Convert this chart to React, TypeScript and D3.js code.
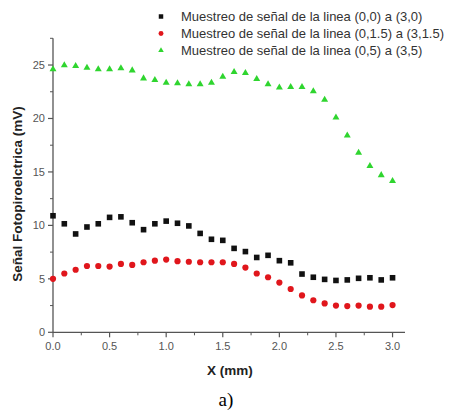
import React from 'react';
import * as d3 from 'd3';

const xValues = [0, 0.1, 0.2, 0.3, 0.4, 0.5, 0.6, 0.7, 0.8, 0.9, 1.0, 1.1, 1.2, 1.3, 1.4, 1.5, 1.6, 1.7, 1.8, 1.9, 2.0, 2.1, 2.2, 2.3, 2.4, 2.5, 2.6, 2.7, 2.8, 2.9, 3.0];
const line00 = [10.9, 10.15, 9.2, 9.85, 10.15, 10.75, 10.8, 10.25, 9.6, 10.15, 10.4, 10.2, 9.95, 9.25, 8.7, 8.6, 7.85, 7.55, 7.0, 7.2, 6.7, 6.5, 5.45, 5.15, 4.95, 4.85, 4.9, 5.05, 5.1, 4.9, 5.1];
const line015 = [5.0, 5.5, 5.85, 6.2, 6.2, 6.15, 6.4, 6.3, 6.55, 6.7, 6.8, 6.65, 6.6, 6.55, 6.55, 6.55, 6.4, 6.05, 5.5, 5.15, 4.65, 4.05, 3.45, 3.0, 2.7, 2.5, 2.45, 2.5, 2.4, 2.4, 2.55];
const line05 = [24.6, 24.98, 24.9, 24.75, 24.6, 24.6, 24.7, 24.5, 23.75, 23.6, 23.35, 23.3, 23.2, 23.2, 23.35, 23.9, 24.35, 24.25, 23.7, 23.2, 22.9, 22.95, 22.95, 22.55, 21.75, 20.1, 18.4, 16.8, 15.55, 14.7, 14.15];
const legendLabels = [
  'Muestreo de señal de la linea (0,0) a (3,0)',
  'Muestreo de señal de la linea (0,1.5) a (3,1.5)',
  'Muestreo de señal de la linea (0,5) a (3,5)',
];
const xTicks = [0, 0.5, 1.0, 1.5, 2.0, 2.5, 3.0];
const yTicks = [0, 5, 10, 15, 20, 25];

const W = 449;
const H = 412;
const axisColor = '#555';
const colors = ['#111111', '#e0161c', '#2fd52f'];

// s = scale, legend markers are a bit smaller than the plotted ones
const Marker = ({ kind, x, y, color, s = 1 }: { kind: number; x: number; y: number; color: string; s?: number }) => {
  if (kind === 0) return <rect x={x - 2.8 * s} y={y - 2.8 * s} width={5.6 * s} height={5.6 * s} fill={color} />;
  if (kind === 1) return <circle cx={x} cy={y} r={3.1 * s} fill={color} />;
  const sym = d3.symbol().type(d3.symbolTriangle).size(21 * s * s)();
  return <path d={sym || ''} transform={`translate(${x},${y})`} fill={color} />;
};

const App = () => {
  const x = d3.scaleLinear().domain([0, 3.11]).range([53, 405]);
  const y = d3.scaleLinear().domain([0, 27.5]).range([332.3, 38.3]);
  const series = [line00, line015, line05];
  const xMinor = d3.range(0.25, 3.01, 0.5);
  const yMinor = d3.range(2.5, 27.6, 5);

  return (
    <svg width={W} height={H} style={{ position: 'absolute', left: 0, top: 0, background: '#fff' }}
      fontFamily="'Liberation Sans', Arial, sans-serif">
      {/* axes */}
      <line x1={x(0)} x2={x(0)} y1={y(27.5)} y2={y(0)} stroke={axisColor} strokeWidth={1.3} />
      <line x1={x(0)} x2={x(3.11)} y1={y(0)} y2={y(0)} stroke={axisColor} strokeWidth={1.3} />
      {yTicks.map(t => (
        <g key={'y' + t}>
          <line x1={x(0) - 5} x2={x(0)} y1={y(t)} y2={y(t)} stroke={axisColor} strokeWidth={1.2} />
          <text x={x(0) - 8} y={y(t)} dy="0.35em" textAnchor="end" fontSize={11} fill="#555">{t}</text>
        </g>
      ))}
      {yMinor.map(t => (
        <line key={'ym' + t} x1={x(0) - 3} x2={x(0)} y1={y(t)} y2={y(t)} stroke={axisColor} strokeWidth={1} />
      ))}
      {xTicks.map(t => (
        <g key={'x' + t}>
          <line x1={x(t)} x2={x(t)} y1={y(0)} y2={y(0) + 5} stroke={axisColor} strokeWidth={1.2} />
          <text x={x(t)} y={y(0) + 18} textAnchor="middle" fontSize={11} fill="#555">{t.toFixed(1)}</text>
        </g>
      ))}
      {xMinor.map(t => (
        <line key={'xm' + t} x1={x(t)} x2={x(t)} y1={y(0)} y2={y(0) + 3} stroke={axisColor} strokeWidth={1} />
      ))}
      <text x={230} y={375} textAnchor="middle" fontSize={13.5} fontWeight="bold" fill="#222">X (mm)</text>
      <text transform={`translate(22,194) rotate(-90)`} textAnchor="middle" fontSize={13.5} fontWeight="bold" fill="#222">
        Señal Fotopiroelctrica (mV)
      </text>

      {/* data */}
      {series.map((vals, si) => (
        <g key={'s' + si}>
          {vals.map((v, i) => (
            <Marker key={i} kind={si} x={x(xValues[i])} y={y(v)} color={colors[si]} />
          ))}
        </g>
      ))}

      {/* legend */}
      {legendLabels.map((lab, i) => (
        <g key={'l' + i}>
          <Marker kind={i} x={161} y={16.5 + i * 17} color={colors[i]} s={0.8} />
          <text x={181} y={16.5 + i * 17} dy="0.35em" fontSize={13} fill="#333">{lab}</text>
        </g>
      ))}

      <text x={226} y={406} textAnchor="middle" fontSize={19} fontFamily="'Liberation Serif', 'Times New Roman', serif" fill="#000">a)</text>
    </svg>
  );
};

export default App;
